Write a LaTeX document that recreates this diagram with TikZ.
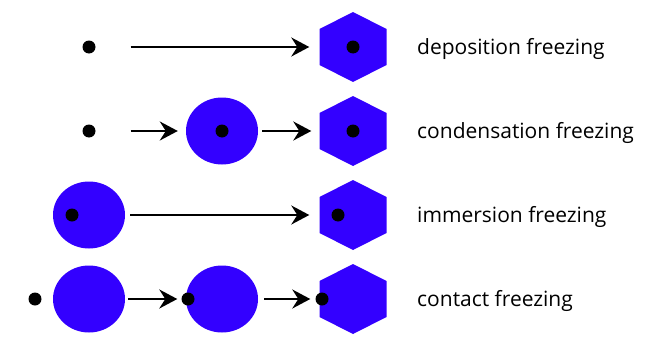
\documentclass[tikz,border=0pt]{standalone}
\usepackage{fontspec}
\setmainfont{Open Sans}
\usetikzlibrary{arrows.meta,shapes.geometric,calc}
\definecolor{iceblue}{RGB}{51,0,255}
\tikzset{
  nucleus/.style={circle,fill=black,minimum size=13pt,inner sep=0pt},
  droplet/.style={ellipse,fill=iceblue,minimum width=72pt,minimum height=67pt,inner sep=0pt},
  crystal/.style={rectangle,minimum width=67pt,minimum height=70pt,inner sep=0pt,
    path picture={\fill[iceblue]
      (path picture bounding box.north)
      -- ($(path picture bounding box.east)+(0,-18)$)
      -- ($(path picture bounding box.east)+(0,18)$)
      -- (path picture bounding box.south)
      -- ($(path picture bounding box.west)+(0,18)$)
      -- ($(path picture bounding box.west)+(0,-18)$)
      -- cycle;}},
  flow/.style={line width=2pt,-{Stealth[length=18pt,width=19pt,inset=6pt]}},
  label/.style={anchor=base west,inner sep=0pt,font=\fontsize{21}{25}\selectfont}
}
\begin{document}
\begin{tikzpicture}[x=1pt,y=-1pt]
\useasboundingbox (0,0) rectangle (653,340);

% deposition freezing
\node[nucleus] (a1) at (89,47) {};
\node[crystal] (a2) at (353,47) {};
\node[nucleus] (a3) at (353,47) {};
\draw[flow,shorten <=35pt,shorten >=10pt] (a1.east) -- (a2.west);
\node[label] (ta) at (417,54) {deposition freezing};

% condensation freezing
\node[nucleus] (b1) at (89,131) {};
\node[droplet] (b2) at (222,131) {};
\node[nucleus] (b3) at (222,131) {};
\node[crystal] (b4) at (353,131) {};
\node[nucleus] (b5) at (353,131) {};
\draw[flow,shorten <=35pt,shorten >=8pt] (b1.east) -- (b2.west);
\draw[flow,shorten <=4pt,shorten >=8pt] (b2.east) -- (b4.west);
\node[label] (tb) at (417,138) {condensation freezing};

% immersion freezing
\node[droplet] (c1) at (89,215) {};
\node[nucleus] (c2) at (72,215) {};
\node[crystal] (c3) at (353,215) {};
\node[nucleus] (c4) at (338,215) {};
\draw[flow,shorten <=5pt,shorten >=10pt] (c1.east) -- (c3.west);
\node[label] (tc) at (417,222) {immersion freezing};

% contact freezing
\node[nucleus] (d1) at (35,299) {};
\node[droplet] (d2) at (89,299) {};
\node[droplet] (d3) at (222,299) {};
\node[nucleus] (d4) at (188,299) {};
\node[crystal] (d5) at (353,299) {};
\node[nucleus] (d6) at (322,299) {};
\draw[flow,shorten <=3pt,shorten >=4pt] (d2.east) -- (d4.west);
\draw[flow,shorten <=6pt,shorten >=5pt] (d3.east) -- (d6.west);
\node[label] (td) at (417,306) {contact freezing};
\end{tikzpicture}
\end{document}
